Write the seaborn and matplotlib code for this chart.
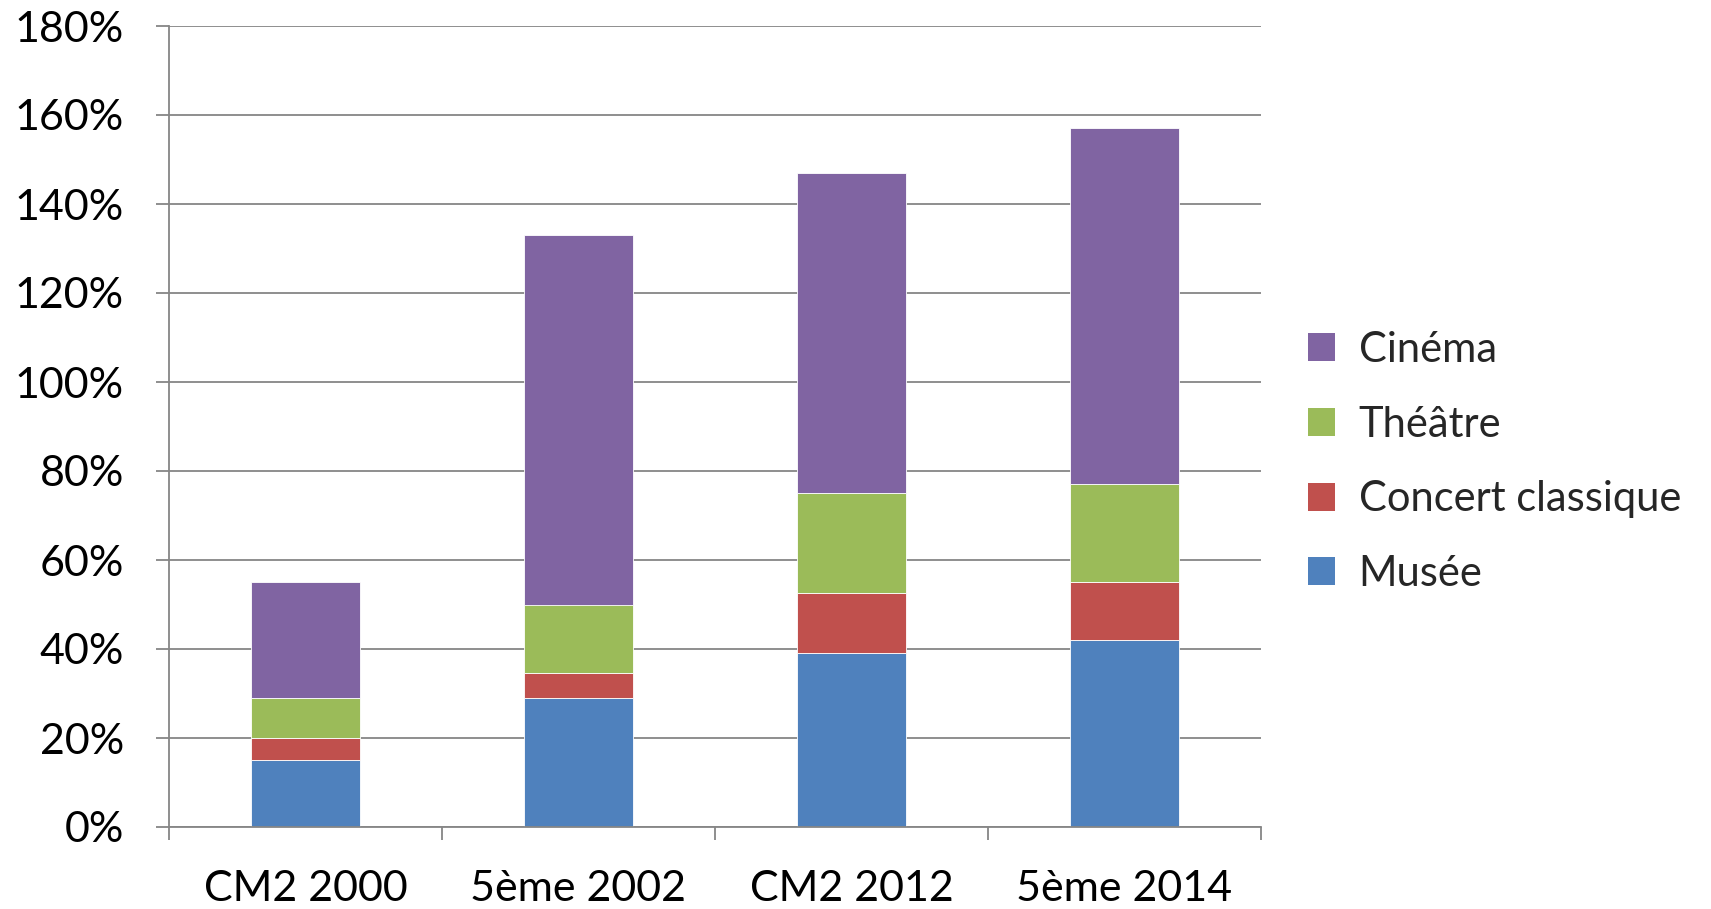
import matplotlib
matplotlib.use("Agg")
import matplotlib.pyplot as plt
from matplotlib.patches import Patch
from matplotlib.ticker import FuncFormatter, FixedLocator
import numpy as np
import pandas as pd
import seaborn as sns

# Share of pupils having attended each activity, by survey wave (percent)
groups = ["CM2 2000", "5ème 2002", "CM2 2012", "5ème 2014"]
musee = [15, 29, 39, 42]
concert = [5, 5.5, 13.5, 13]
theatre = [9, 15.5, 22.5, 22]
cinema = [26, 83, 72, 80]

series = ["Musée", "Concert classique", "Théâtre", "Cinéma"]
colors = ["#4F81BD", "#C0504D", "#9BBB59", "#8064A2"]

df = pd.DataFrame({"groupe": groups, "Musée": musee,
                   "Concert classique": concert, "Théâtre": theatre,
                   "Cinéma": cinema})

sns.set_theme(style="white")
plt.rcParams["font.family"] = ["Lato", "DejaVu Sans"]

FS = 31
W, H = 1711, 909
fig = plt.figure(figsize=(W / 100, H / 100), dpi=100)
left, right, top, bottom = 169, 1261, 26, 827
ax = fig.add_axes([left / W, 1 - bottom / H, (right - left) / W, (bottom - top) / H])

base = np.zeros(len(groups))
for name, col in zip(series, colors):
    sns.barplot(data=df, x="groupe", y=name, color=col, bottom=base,
                width=0.4, ax=ax, saturation=1, edgecolor="white",
                linewidth=0.6)
    base = base + df[name].to_numpy()

ax.set_xlim(-0.5, len(groups) - 0.5)
ax.set_ylim(0, 180)
ax.set_yticks(np.arange(0, 181, 20))
ax.yaxis.set_major_formatter(FuncFormatter(lambda v, p: f"{v:.0f}%"))
ax.set_xlabel("")
ax.set_ylabel("")

grid_col = "#868686"
ax.yaxis.grid(True, color=grid_col, linewidth=1.3)
ax.set_axisbelow(True)
for s in ["top", "right"]:
    ax.spines[s].set_visible(False)
for s in ["left", "bottom"]:
    ax.spines[s].set_color(grid_col)
    ax.spines[s].set_linewidth(1.3)

# category separators as tick marks below the axis
ax.xaxis.set_minor_locator(FixedLocator(np.arange(-0.5, len(groups), 1.0)))
ax.tick_params(axis="x", which="minor", length=9.5, width=1.3, color=grid_col,
               direction="out", bottom=True)
ax.tick_params(axis="x", which="major", length=0, pad=31, labelsize=FS)
ax.tick_params(axis="y", which="major", length=9.5, width=1.3, color=grid_col,
               direction="out", left=True, pad=23, labelsize=FS)
for lbl in ax.get_xticklabels() + ax.get_yticklabels():
    lbl.set_color("black")

handles = [Patch(facecolor=c, edgecolor="none", label=n)
           for n, c in zip(series[::-1], colors[::-1])]
fig.legend(handles=handles, loc="center left",
           bbox_to_anchor=(1270 / W, 1 - 462 / H), frameon=False,
           fontsize=30, handlelength=0.65, handleheight=0.65,
           handletextpad=0.58, labelspacing=0.88, borderpad=0.4)

fig.savefig("out.png", dpi=100)
